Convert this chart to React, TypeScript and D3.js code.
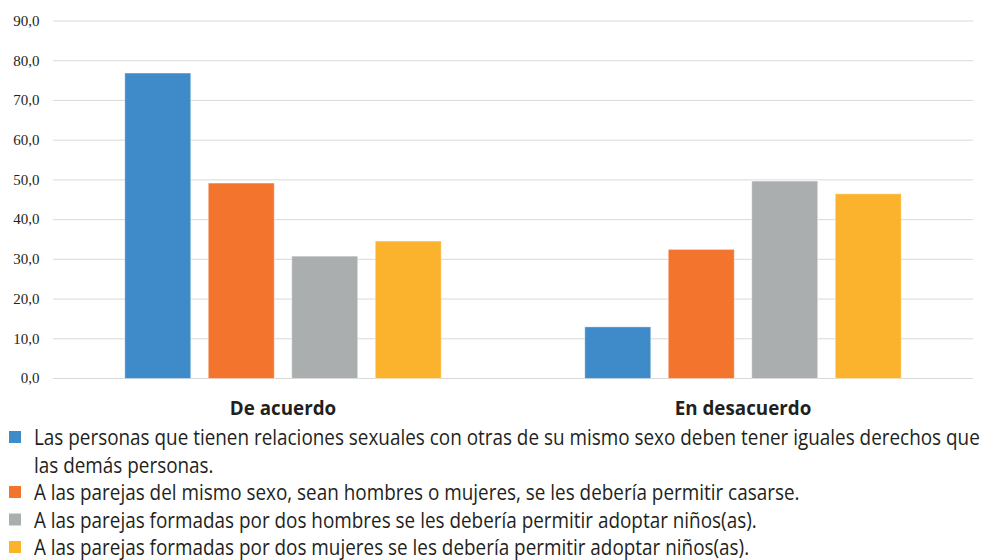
import React from "react";
import * as d3 from "d3";

const categories = ["De acuerdo", "En desacuerdo"];
const seriesNames = [
  "Las personas que tienen relaciones sexuales con otras de su mismo sexo deben tener iguales derechos que|las demás personas.",
  "A las parejas del mismo sexo, sean hombres o mujeres, se les debería permitir casarse.",
  "A las parejas formadas por dos hombres se les debería permitir adoptar niños(as).",
  "A las parejas formadas por dos mujeres se les debería permitir adoptar niños(as).",
];
const seriesColors = ["#3f8bc9", "#f2742d", "#abaeaf", "#fbb32d"];
const derechos = [76.9, 13.0];
const casarse = [49.2, 32.5];
const adoptarHombres = [30.8, 49.7];
const adoptarMujeres = [34.6, 46.5];
const seriesValues = [derechos, casarse, adoptarHombres, adoptarMujeres];
const yTicks = [0, 10, 20, 30, 40, 50, 60, 70, 80, 90];

const W = 983;
const H = 560;
const plotLeft = 53;
const plotRight = 973;
const yTop = 21;
const yBottom = 378.5;

export default function App() {
  const y = d3.scaleLinear().domain([0, 90]).range([yBottom, yTop]);
  const x0 = d3.scaleBand().domain(categories).range([plotLeft, plotRight]).padding(0);
  const x1 = d3
    .scaleBand()
    .domain(seriesNames.map((_, i) => String(i)))
    .range([0, x0.bandwidth()])
    .paddingInner(0.21)
    .paddingOuter(0.86);
  const fmt = (v: number) => d3.format(".1f")(v).replace(".", ",");
  const sansFont = "'Open Sans', 'Noto Sans', sans-serif";
  const serifFont = "'Liberation Serif', 'Times New Roman', 'DejaVu Serif', serif";
  const textColor = "#231f20";
  const legendStart = 445;
  const legendSx = 0.9;
  const catSx = 0.94;
  let line = 0;
  return (
    <svg
      width={W}
      height={H}
      style={{ position: "absolute", left: 0, top: 0, background: "#fff" }}
    >
      <rect x={0} y={0} width={W} height={H} fill="#fff" />
      {yTicks.map((t) => (
        <g key={t}>
          <line
            x1={plotLeft}
            x2={plotRight}
            y1={y(t)}
            y2={y(t)}
            stroke="#d9d9d9"
            strokeWidth={1}
          />
          <text
            x={39.5}
            y={y(t)}
            dy="0.32em"
            textAnchor="end"
            style={{ fontFamily: serifFont, fontSize: 15 }}
            fill={textColor}
          >
            {fmt(t)}
          </text>
        </g>
      ))}
      {categories.map((c, ci) => (
        <g key={c} transform={`translate(${x0(c)},0)`}>
          {seriesValues.map((vals, si) => (
            <rect
              key={si}
              x={x1(String(si))}
              y={y(vals[ci])}
              width={x1.bandwidth()}
              height={y(0) - y(vals[ci])}
              fill={seriesColors[si]}
              stroke="#ffffff"
              strokeOpacity={0.4}
              strokeWidth={1}
            />
          ))}
          <g transform={`translate(${x0.bandwidth() / 2},415) scale(${catSx},1)`}>
            <text
              x={0}
              y={0}
              textAnchor="middle"
              style={{ fontFamily: sansFont, fontWeight: 700, fontSize: 20 }}
              fill={textColor}
            >
              {c}
            </text>
          </g>
        </g>
      ))}
      {seriesNames.map((name, si) => {
        const parts = name.split("|");
        const firstLine = line;
        line += parts.length;
        return (
          <g key={si}>
            <rect
              x={9}
              y={legendStart + firstLine * 27.5 - 14}
              width={12}
              height={12}
              fill={seriesColors[si]}
            />
            {parts.map((p, pi) => (
              <g
                key={pi}
                transform={`translate(34,${legendStart + (firstLine + pi) * 27.5}) scale(${legendSx},1)`}
              >
                <text
                  x={0}
                  y={0}
                  style={{ fontFamily: sansFont, fontSize: 21 }}
                  fill={textColor}
                >
                  {p}
                </text>
              </g>
            ))}
          </g>
        );
      })}
    </svg>
  );
}
